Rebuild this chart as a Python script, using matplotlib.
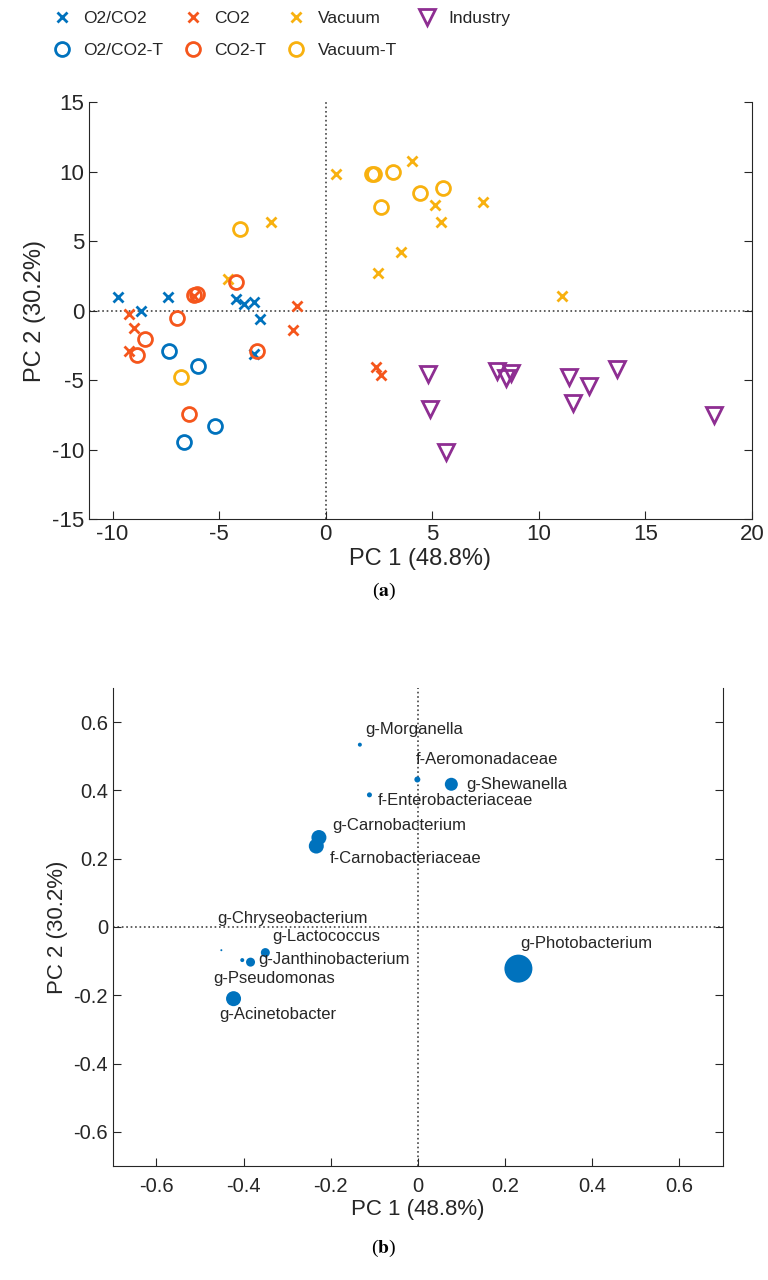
import numpy as np
import matplotlib
matplotlib.use('Agg')
from matplotlib import pyplot as plt

plt.rcParams['font.family'] = ['Liberation Sans', 'DejaVu Sans']
plt.rcParams['mathtext.fontset'] = 'stix'
plt.rcParams['axes.unicode_minus'] = False

# ---- (a) sample scores ----
o2co2_x = [-9.72, -8.65, -7.42, -4.2, -3.81, -3.34, -3.1, -3.34]
o2co2_y = [0.95, 0.0, 0.95, 0.86, 0.5, 0.62, -0.6, -3.15]
co2_x = [-9.22, -8.98, -9.22, -6.16, -1.33, -1.54, 2.38, 2.62]
co2_y = [-0.24, -1.24, -2.92, 1.03, 0.31, -1.43, -4.06, -4.66]
vac_x = [-2.55, -4.6, 0.47, 4.03, 5.13, 5.4, 7.4, 3.53, 2.46, 11.11]
vac_y = [6.4, 2.27, 9.8, 10.78, 7.6, 6.4, 7.84, 4.23, 2.7, 1.07]
o2co2t_x = [-7.34, -6.0, -5.17, -6.63]
o2co2t_y = [-2.92, -3.99, -8.29, -9.49]
co2t_x = [-6.2, -6.05, -6.98, -8.47, -8.83, -4.2, -3.21, -6.4]
co2t_y = [1.15, 1.22, -0.57, -2.08, -3.23, 2.06, -2.89, -7.41]
vact_x = [2.16, 2.27, 3.14, 2.62, 4.45, 5.52, -4.01, -6.79]
vact_y = [9.82, 9.82, 9.99, 7.48, 8.48, 8.79, 5.86, -4.78]
ind_x = [4.81, 4.92, 5.64, 8.03, 8.45, 8.69, 11.43, 12.37, 11.6, 13.67, 18.22]
ind_y = [-4.59, -7.1, -10.2, -4.35, -4.83, -4.47, -4.76, -5.42, -6.62, -4.18, -7.53]

# ---- (b) taxa loadings ----
taxa = ['g-Morganella', 'f-Aeromonadaceae', 'g-Shewanella', 'f-Enterobacteriaceae',
        'g-Carnobacterium', 'f-Carnobacteriaceae', 'g-Chryseobacterium', 'g-Lactococcus',
        'g-Janthinobacterium', 'g-Pseudomonas', 'g-Acinetobacter', 'g-Photobacterium']
taxa_x = [-0.133, -0.001, 0.077, -0.111, -0.227, -0.233, -0.451, -0.35, -0.384, -0.403, -0.423, 0.231]
taxa_y = [0.534, 0.432, 0.418, 0.387, 0.262, 0.237, -0.068, -0.075, -0.103, -0.097, -0.21, -0.122]
abundance = [4, 6, 13, 5, 15, 15, 2, 9, 9, 4, 15, 28]
lab_x = [-0.120, -0.004, 0.111, -0.092, -0.196, -0.203, -0.461, -0.333, -0.367, -0.469, -0.455, 0.235]
lab_y = [0.578, 0.490, 0.418, 0.371, 0.296, 0.200, 0.025, -0.027, -0.095, -0.151, -0.255, -0.047]

blue = '#0072BD'
red = '#F5561C'
yellow = '#F8B10F'
purple = '#8E2E92'
txt = '#262626'

fig = plt.figure(figsize=(7.68, 12.8), dpi=100)

ax1 = fig.add_axes([0.116, 0.5945, 0.863, 0.3258])
ax1.axhline(0, color='#444444', ls=':', lw=1.2, zorder=1)
ax1.axvline(0, color='#444444', ls=':', lw=1.2, zorder=1)
h1 = ax1.plot(o2co2_x, o2co2_y, 'x', color=blue, ms=7, mew=2, ls='none', label='O2/CO2')[0]
h2 = ax1.plot(co2_x, co2_y, 'x', color=red, ms=7, mew=2, ls='none', label='CO2')[0]
h3 = ax1.plot(vac_x, vac_y, 'x', color=yellow, ms=7, mew=2, ls='none', label='Vacuum')[0]
h4 = ax1.plot(o2co2t_x, o2co2t_y, 'o', mfc='none', mec=blue, ms=10, mew=2, ls='none', label='O2/CO2-T')[0]
h5 = ax1.plot(co2t_x, co2t_y, 'o', mfc='none', mec=red, ms=10, mew=2, ls='none', label='CO2-T')[0]
h6 = ax1.plot(vact_x, vact_y, 'o', mfc='none', mec=yellow, ms=10, mew=2, ls='none', label='Vacuum-T')[0]
h7 = ax1.plot(ind_x, ind_y, 'v', mfc='none', mec=purple, ms=12, mew=2, ls='none', label='Industry')[0]
ax1.set_xlim(-11.1, 20)
ax1.set_ylim(-15, 15)
ax1.set_xticks(np.arange(-10, 21, 5))
ax1.set_yticks(np.arange(-15, 16, 5))
ax1.tick_params(direction='in', labelsize=16, colors=txt, length=6, right=True)
ax1.spines['top'].set_visible(False)
for s in ax1.spines.values():
    s.set_color(txt)
ax1.set_xlabel('PC 1 (48.8%)', fontsize=17, color=txt, labelpad=2)
ax1.set_ylabel('PC 2 (30.2%)', fontsize=17, color=txt)

fig.legend([h1, h4, h2, h5, h3, h6, h7],
           ['O2/CO2', 'O2/CO2-T', 'CO2', 'CO2-T', 'Vacuum', 'Vacuum-T', 'Industry'],
           ncol=4, loc='upper left', bbox_to_anchor=(0.043, 1.004), frameon=False,
           fontsize=12.5, handletextpad=0.5, columnspacing=0.95, labelspacing=1.0,
           handlelength=1.5, labelcolor=txt)

fig.text(0.5, 0.538, r'($\mathbf{a}$)', ha='center', va='center', fontsize=14,
         family='Liberation Serif')

ax2 = fig.add_axes([0.147, 0.0891, 0.794, 0.3734])
ax2.axhline(0, color='#444444', ls=':', lw=1.2, zorder=1)
ax2.axvline(0, color='#444444', ls=':', lw=1.2, zorder=1)
sizes = (np.array(abundance) * 0.72) ** 2
ax2.scatter(taxa_x, taxa_y, s=sizes, color=blue, edgecolors='none', zorder=3)
for name, tx, ty in zip(taxa, lab_x, lab_y):
    ax2.text(tx, ty, name, ha='left', va='center', fontsize=12, color=txt, zorder=4)
ax2.set_xlim(-0.7, 0.7)
ax2.set_ylim(-0.7, 0.7)
ax2.set_xticks(np.arange(-0.6, 0.61, 0.2))
ax2.set_yticks(np.arange(-0.6, 0.61, 0.2))
ax2.set_xticklabels(['-0.6', '-0.4', '-0.2', '0', '0.2', '0.4', '0.6'])
ax2.set_yticklabels(['-0.6', '-0.4', '-0.2', '0', '0.2', '0.4', '0.6'])
ax2.tick_params(direction='in', labelsize=14.5, colors=txt, length=6, right=True)
ax2.tick_params(axis='x', pad=8)
ax2.spines['top'].set_visible(False)
for s in ax2.spines.values():
    s.set_color(txt)
ax2.set_xlabel('PC 1 (48.8%)', fontsize=16, color=txt, labelpad=2)
ax2.set_ylabel('PC 2 (30.2%)', fontsize=16, color=txt)

fig.text(0.5, 0.025, r'($\mathbf{b}$)', ha='center', va='center', fontsize=14,
         family='Liberation Serif')

fig.savefig('out.png', dpi=100)
